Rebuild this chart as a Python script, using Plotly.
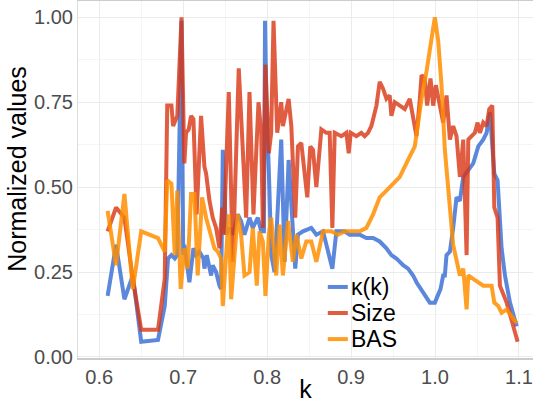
import plotly.graph_objects as go

# kappa(k)
k_x = [0.610, 0.620, 0.630, 0.640, 0.650, 0.670, 0.678, 0.682, 0.686, 0.690, 0.693, 0.696, 0.698,
       0.700, 0.7014, 0.7074, 0.7122, 0.7153, 0.7193, 0.7241, 0.7253, 0.7281, 0.7333, 0.7352, 0.7392,
       0.7432, 0.7452, 0.7472, 0.7511, 0.7551, 0.7591, 0.7650, 0.7690, 0.7730, 0.7790, 0.7829, 0.7889,
       0.7929, 0.7962, 0.7975, 0.799, 0.802, 0.805, 0.8088, 0.8168, 0.8208, 0.8256, 0.8335, 0.8367,
       0.8427, 0.8526, 0.8586, 0.8666, 0.8777, 0.8825, 0.8924, 0.8983, 0.9103, 0.9182, 0.9262, 0.9341,
       0.9421, 0.9480, 0.9540, 0.9620, 0.9679, 0.9739, 0.9779, 0.9858, 0.9938, 0.9998, 1.0038, 1.0065,
       1.0097, 1.0117, 1.0137, 1.0177, 1.0216, 1.0256, 1.0296, 1.0336, 1.0396, 1.0455, 1.0515, 1.0574,
       1.0614, 1.0654, 1.0706, 1.0745, 1.0793, 1.0833, 1.0893, 1.0972]
k_y = [0.18, 0.33, 0.17, 0.24, 0.045, 0.05, 0.15, 0.29, 0.30, 0.29, 0.30, 0.80, 0.99,
       0.30, 0.33, 0.22, 0.32, 0.30, 0.31, 0.29, 0.26, 0.30, 0.24, 0.27, 0.25,
       0.21, 0.20, 0.61, 0.36, 0.38, 0.36, 0.42, 0.40, 0.36, 0.41, 0.38, 0.41,
       0.37, 0.37, 0.99, 0.75, 0.55, 0.30, 0.25, 0.64, 0.28, 0.58, 0.26, 0.36,
       0.37, 0.38, 0.36, 0.37, 0.26, 0.37, 0.37, 0.36, 0.36, 0.35, 0.35, 0.34,
       0.32, 0.30, 0.29, 0.27, 0.26, 0.24, 0.22, 0.19, 0.16, 0.16, 0.18, 0.20,
       0.24, 0.24, 0.30, 0.31, 0.38, 0.47, 0.46, 0.53, 0.55, 0.57, 0.62, 0.64,
       0.66, 0.72, 0.54, 0.52, 0.32, 0.24, 0.16, 0.09]

# Size
s_x = [0.610, 0.620, 0.630, 0.640, 0.650, 0.670, 0.678, 0.681, 0.686, 0.688, 0.693, 0.698,
       0.7014, 0.7034, 0.7066, 0.7094, 0.7122, 0.7160, 0.7213, 0.7253, 0.7273, 0.7313, 0.7352,
       0.7392, 0.7432, 0.7464, 0.7484, 0.7543, 0.7591, 0.7662, 0.7750, 0.7790, 0.7837, 0.7897,
       0.7929, 0.7949, 0.7980, 0.8020, 0.8048, 0.8076, 0.8120, 0.8168, 0.8188, 0.8256, 0.8288,
       0.8335, 0.8367, 0.8407, 0.8478, 0.8514, 0.8546, 0.8586, 0.8646, 0.8705, 0.8745, 0.8777,
       0.8805, 0.8884, 0.8944, 0.8972, 0.8996, 0.9063, 0.9122, 0.9162, 0.9202, 0.9242, 0.9302,
       0.9341, 0.9381, 0.9421, 0.9460, 0.9480, 0.9520, 0.9580, 0.9639, 0.9699, 0.9751, 0.9779,
       0.9819, 0.9839, 0.9878, 0.9906, 0.9946, 0.9978, 1.0010, 1.0058, 1.0097, 1.0137, 1.0177,
       1.0216, 1.0256, 1.0296, 1.0336, 1.0376, 1.0396, 1.0435, 1.0475, 1.0507, 1.0535, 1.0574,
       1.0614, 1.0646, 1.0682, 1.0706, 1.0745, 1.0773, 1.0853, 1.0984]
s_y = [0.37, 0.44, 0.41, 0.23, 0.08, 0.08, 0.23, 0.74, 0.74, 0.68, 0.71, 1.00,
       0.57, 0.66, 0.67, 0.71, 0.70, 0.42, 0.71, 0.56, 0.54, 0.46, 0.41,
       0.38, 0.32, 0.44, 0.36, 0.78, 0.28, 0.85, 0.41, 0.78, 0.42, 0.75,
       0.66, 0.38, 0.86, 0.60, 0.66, 0.99, 0.66, 0.75, 0.68, 0.76, 0.68,
       0.41, 0.62, 0.63, 0.47, 0.62, 0.61, 0.50, 0.67, 0.66, 0.66, 0.38,
       0.66, 0.65, 0.66, 0.60, 0.66, 0.65, 0.66, 0.65, 0.66, 0.68, 0.74,
       0.81, 0.79, 0.76, 0.77, 0.71, 0.75, 0.74, 0.73, 0.76, 0.69, 0.65,
       0.76, 0.83, 0.82, 0.74, 0.82, 0.74, 0.80, 0.73, 0.69, 0.77, 0.64,
       0.68, 0.65, 0.53, 0.64, 0.30, 0.64, 0.65, 0.66, 0.69, 0.66, 0.69,
       0.68, 0.73, 0.74, 0.44, 0.41, 0.21, 0.16, 0.045]

# BAS
b_x = [0.610, 0.620, 0.630, 0.640, 0.650, 0.670, 0.678, 0.681, 0.686, 0.690, 0.693, 0.697,
       0.7014, 0.7054, 0.7094, 0.7134, 0.7173, 0.7225, 0.7273, 0.7333, 0.7372, 0.7412, 0.7452,
       0.7472, 0.7543, 0.7571, 0.7650, 0.7690, 0.7730, 0.7790, 0.7829, 0.7877, 0.7909, 0.7949,
       0.7980, 0.8020, 0.8048, 0.8108, 0.8148, 0.8188, 0.8248, 0.8307, 0.8347, 0.8407, 0.8466,
       0.8526, 0.8586, 0.8666, 0.8765, 0.8845, 0.8924, 0.9103, 0.9182, 0.9262, 0.9341, 0.9421,
       0.9500, 0.9580, 0.9679, 0.9759, 0.9799, 0.9839, 0.9898, 0.9938, 0.9998, 1.0038, 1.0077,
       1.0117, 1.0157, 1.0216, 1.0296, 1.0336, 1.0376, 1.0396, 1.0455, 1.0515, 1.0574, 1.0674,
       1.0706, 1.0753, 1.0793, 1.0853, 1.0972]
b_y = [0.43, 0.27, 0.48, 0.20, 0.37, 0.35, 0.31, 0.52, 0.51, 0.30, 0.49, 0.20,
       0.32, 0.26, 0.48, 0.48, 0.24, 0.47, 0.41, 0.36, 0.32, 0.31, 0.29,
       0.15, 0.42, 0.17, 0.42, 0.36, 0.24, 0.25, 0.38, 0.21, 0.37, 0.34,
       0.18, 0.36, 0.41, 0.24, 0.39, 0.24, 0.40, 0.28, 0.36, 0.29, 0.34,
       0.34, 0.28, 0.37, 0.37, 0.36, 0.37, 0.37, 0.38, 0.42, 0.47, 0.49,
       0.51, 0.53, 0.58, 0.62, 0.69, 0.76, 0.84, 0.91, 1.00, 0.93, 0.80,
       0.61, 0.50, 0.33, 0.24, 0.26, 0.14, 0.24, 0.23, 0.22, 0.21, 0.21,
       0.16, 0.15, 0.13, 0.14, 0.10]

series_names = ["κ(k)", "Size", "BAS"]
series_colors = ["rgba(50,105,211,0.8)", "rgba(216,52,18,0.8)", "rgba(255,142,0,0.85)"]

x_ticks = [0.6, 0.7, 0.8, 0.9, 1.0, 1.1]
x_tick_labels = ["0.6", "0.7", "0.8", "0.9", "1.0", "1.1"]
y_ticks = [0.0, 0.25, 0.5, 0.75, 1.0]
y_tick_labels = ["0.00", "0.25", "0.50", "0.75", "1.00"]

FONT = "Liberation Sans, Arial, sans-serif"

fig = go.Figure()
for name, xs, ys, col in zip(series_names, [k_x, s_x, b_x], [k_y, s_y, b_y], series_colors):
    fig.add_trace(go.Scatter(x=xs, y=ys, mode="lines", name=name, showlegend=False,
                             line=dict(color=col, width=4)))

# compact legend inside the panel (keys + real text labels)
leg_y = [0.199, 0.126, 0.053]
for name, col, ly in zip(series_names, series_colors, leg_y):
    fig.add_shape(type="line", xref="paper", yref="paper", x0=0.549, x1=0.593, y0=ly, y1=ly,
                  line=dict(color=col, width=4))
    fig.add_annotation(xref="paper", yref="paper", x=0.598, y=ly, text=name, showarrow=False,
                       xanchor="left", yanchor="middle", borderpad=0,
                       font=dict(size=23, color="black"))

# y-axis title
fig.add_annotation(xref="paper", yref="paper", x=-0.134, y=0.53, text="Normalized values",
                   textangle=-90, showarrow=False, xanchor="center", yanchor="middle",
                   font=dict(size=25, color="black"))

fig.update_layout(
    width=533, height=403,
    margin=dict(l=78, r=0, t=1, b=45),
    paper_bgcolor="white", plot_bgcolor="white",
    font=dict(family=FONT, color="black"),
    showlegend=False,
)
fig.update_xaxes(
    range=[0.5747, 1.1167], tickvals=x_ticks, ticktext=x_tick_labels,
    tickfont=dict(size=20, color="#4d4d4d"),
    showgrid=True, gridcolor="#ebebeb", gridwidth=1,
    minor=dict(dtick=0.05, tick0=0.55, showgrid=True, gridcolor="#f5f5f5", gridwidth=1),
    showline=True, linecolor="#cccccc", linewidth=2, mirror=True,
    zeroline=False, ticks="", automargin=False,
    title=dict(text="k", font=dict(size=25, color="black"), standoff=4),
)
fig.update_yaxes(
    range=[-0.003, 1.048], tickvals=y_ticks, ticktext=y_tick_labels,
    tickfont=dict(size=20, color="#4d4d4d"),
    showgrid=True, gridcolor="#ebebeb", gridwidth=1,
    minor=dict(dtick=0.125, tick0=0, showgrid=True, gridcolor="#f5f5f5", gridwidth=1),
    showline=True, linecolor="#dddddd", linewidth=1,
    zeroline=False, ticks="", automargin=False,
)

fig.write_html("out.html")
